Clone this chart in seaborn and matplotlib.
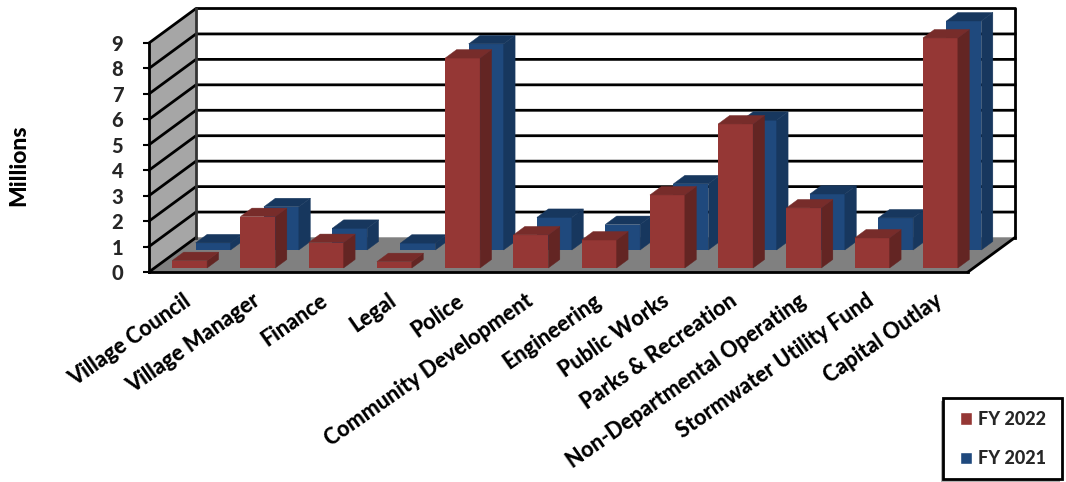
import matplotlib
matplotlib.use("Agg")
import matplotlib.pyplot as plt
from matplotlib.patches import Patch, Polygon, Rectangle
import seaborn as sns

departments = ["Village Council", "Village Manager", "Finance", "Legal", "Police",
               "Community Development", "Engineering", "Public Works",
               "Parks & Recreation", "Non-Departmental Operating",
               "Stormwater Utility Fund", "Capital Outlay"]
fy2022 = [0.29, 2.02, 1.0, 0.25, 8.25, 1.3, 1.1, 2.87, 5.66, 2.36, 1.18, 9.04]
fy2021 = [0.28, 1.7, 0.85, 0.27, 8.1, 1.28, 1.0, 2.6, 5.1, 2.2, 1.26, 9.0]
y_ticks = list(range(10))

RED, RED_SIDE, RED_TOP = "#953735", "#632523", "#772C2A"
BLUE, BLUE_SIDE, BLUE_TOP = "#1F497D", "#17375E", "#17375E"
WALL, FLOOR = "#A6A6A6", "#808080"

sns.set_theme(style="white")
plt.rcParams["font.family"] = ["Lato", "DejaVu Sans"]
WEIGHT = "black"

W, H = 1066, 482
fig = plt.figure(figsize=(W / 100, H / 100), dpi=100)
ax = fig.add_axes([149 / W, (H - 272) / H, (968 - 149) / W, (272 - 43) / H])
ax.patch.set_alpha(0)

# pixel lengths expressed in data units, for the oblique projection
PX_X = 12 / (968 - 149)
PX_Y = 9 / (272 - 43)
DEPTH_X, DEPTH_Y = 47 * PX_X, 34.5 * PX_Y
BAR_DX, BAR_DY = 11.5 * PX_X, 8.5 * PX_Y


def face(points, color, z):
    ax.add_patch(Polygon(points, closed=True, facecolor=color, edgecolor=color, linewidth=0.3,
                         zorder=z, clip_on=False))


def line(xs, ys, lw=2.0, color="black", z=2):
    ax.plot(xs, ys, color=color, lw=lw, zorder=z, clip_on=False, solid_capstyle="projecting")


def extrude(bars, dx_px, base_px, side, top):
    # shift each bar into its depth row and add the side and top faces
    for bar in bars:
        bar.set_x(bar.get_x() + dx_px * PX_X)
        bar.set_y(base_px * PX_Y)
        bar.set_clip_on(False)
        bar.set_edgecolor("none")
        bar.set_linewidth(0)
        z = bar.get_zorder()
        x0, y0, w, h = bar.get_x(), bar.get_y(), bar.get_width(), bar.get_height()
        x1, y1 = x0 + w, y0 + h
        face([(x1, y0), (x1 + BAR_DX, y0 + BAR_DY), (x1 + BAR_DX, y1 + BAR_DY), (x1, y1)], side, z)
        face([(x0, y1), (x1, y1), (x1 + BAR_DX, y1 + BAR_DY), (x0 + BAR_DX, y1 + BAR_DY)], top, z)


sns.barplot(x=departments, y=fy2021, color=BLUE, saturation=1, width=0.512, ax=ax, zorder=3)
blue_bars = list(ax.patches)
sns.barplot(x=departments, y=fy2022, color=RED, saturation=1, width=0.512, ax=ax, zorder=4)
red_bars = list(ax.patches)[len(blue_bars):]
extrude(blue_bars, 30, 22, BLUE_SIDE, BLUE_TOP)
extrude(red_bars, 6.5, 4, RED_SIDE, RED_TOP)

ax.set_xlim(-0.5, 11.5)
ax.set_ylim(0, 9)

# chart box: left wall, floor and back wall
xl, xr = -0.5, 11.5
face([(xl, 0), (xl + DEPTH_X, DEPTH_Y), (xl + DEPTH_X, 9 + DEPTH_Y), (xl, 9)], WALL, 1)
face([(xl, 0), (xr, 0), (xr + DEPTH_X, DEPTH_Y), (xl + DEPTH_X, DEPTH_Y)], FLOOR, 1)
for v in y_ticks[1:]:
    line([xl, xl + DEPTH_X, xr + DEPTH_X], [v, v + DEPTH_Y, v + DEPTH_Y])
line([xl, xl + DEPTH_X], [0, DEPTH_Y])
line([xr, xr + DEPTH_X], [0, DEPTH_Y])
line([xl + DEPTH_X] * 2, [DEPTH_Y, 9 + DEPTH_Y], color="#333333")
line([xr + DEPTH_X] * 2, [DEPTH_Y, 9 + DEPTH_Y])

for side in ("top", "right"):
    ax.spines[side].set_visible(False)
for side in ("left", "bottom"):
    ax.spines[side].set_visible(True)
    ax.spines[side].set_color("black")
    ax.spines[side].set_linewidth(2.0)
    ax.spines[side].set_zorder(5)

ax.set_yticks(y_ticks)
ax.tick_params(axis="y", left=True, length=4.5, width=1.5, color="black", pad=14,
               labelsize=14.5, labelcolor="#262626")
for label in ax.get_yticklabels():
    label.set_fontweight(WEIGHT)
ax.set_xticks(range(len(departments)))
ax.set_xticklabels(departments, rotation=35, ha="right", rotation_mode="anchor",
                   fontsize=15.5, fontweight=WEIGHT, color="black")
ax.tick_params(axis="x", bottom=False, pad=7)
ax.set_xlabel("")
ax.set_ylabel("")
fig.text(19 / W, 1 - 165 / H, "Millions", rotation=90, ha="center", va="center",
         fontsize=16.5, fontweight=WEIGHT, color="black")

# legend box with a soft drop shadow
box = dict(width=119 / W, height=81 / H, transform=fig.transFigure)
fig.add_artist(Rectangle((941 / W, 1 - 482 / H), facecolor="#000000", alpha=0.3, edgecolor="none", **box))
fig.add_artist(Rectangle((943 / W, 1 - 479 / H), facecolor="white", edgecolor="black", linewidth=2.0, **box))
legend = fig.legend(
    handles=[Patch(facecolor=RED, label="FY 2022"), Patch(facecolor=BLUE, label="FY 2021")],
    loc="center", bbox_to_anchor=(1003 / W, 1 - 439 / H), bbox_transform=fig.transFigure,
    borderaxespad=0, borderpad=0, fontsize=13, frameon=False, handlelength=0.7, handleheight=0.7,
    handletextpad=0.35, labelspacing=1.25,
)
for text in legend.get_texts():
    text.set_fontweight(WEIGHT)

fig.savefig("out.png", dpi=100)
